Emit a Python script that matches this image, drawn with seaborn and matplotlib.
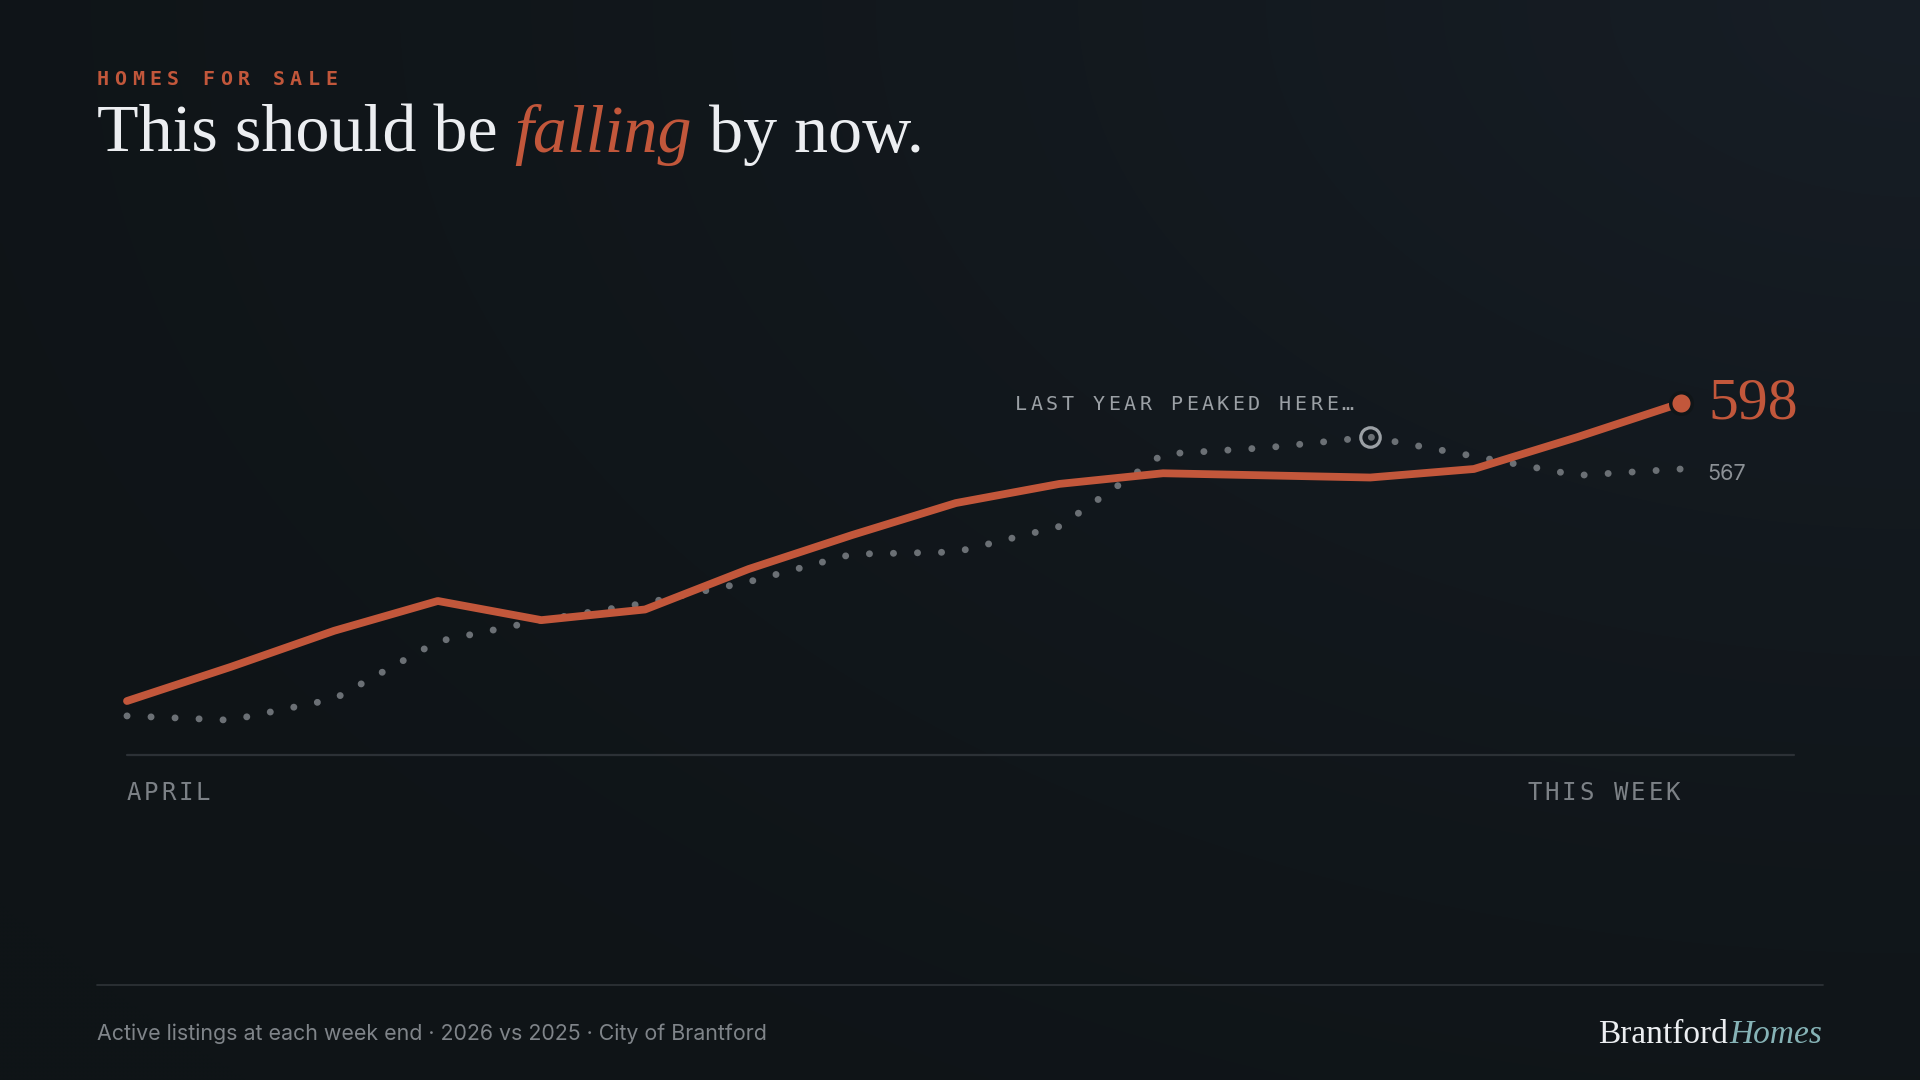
import numpy as np
import matplotlib
matplotlib.use('Agg')
import matplotlib.pyplot as plt
from matplotlib.lines import Line2D
import seaborn as sns

W, H = 1920, 1080

# ── data ──────────────────────────────────────────────────────
weeks = list(range(16))
listings_2026 = [458, 474, 491, 505, 496, 501, 520, 536, 551, 560, 565, 564, 563, 567, 582, 598]
listings_2025 = [451, 449, 459, 486, 496, 504, 514, 527, 528, 540, 574, 577, 582, 573, 564, 567]
x_labels = ['APRIL', 'THIS WEEK']

kicker = 'HOMES FOR SALE'
title_parts = ['This should be', 'falling', 'by now.']
note = 'LAST YEAR PEAKED HERE…'
footer = 'Active listings at each week end · 2026 vs 2025 · City of Brantford'
brand = ['Brantford', 'Homes']

# ── colours ───────────────────────────────────────────────────
BG = '#101518'
ORANGE = '#c2573b'
GREY_DOT = '#6b7075'
GREY_RING = '#9ba0a5'
GREY_TXT = '#8c9196'
WHITE = '#eceef1'
TEAL = '#86b3b6'
RULE = '#2c3136'

SERIF = 'Liberation Serif'
MONO = 'DejaVu Sans Mono'
SANS = 'Inter'

sns.set_style('dark', {'axes.facecolor': 'none', 'figure.facecolor': BG})
plt.rcParams['font.family'] = [SANS, 'DejaVu Sans']


def fx(px):
    return px / W


def fy(py):
    return 1 - py / H


def pt(px):
    return px * 72 / 100


def tracked(fig, x, y, s, size_px, track, color, ha='left', weight='normal'):
    # monospace text with extra letter spacing, one glyph per cell
    cell = 0.602 * size_px
    adv = cell + track
    if ha == 'right':
        x = x - (len(s) - 1) * adv - cell
    for i, ch in enumerate(s):
        fig.text(fx(x + i * adv + cell / 2), fy(y), ch, ha='center', va='baseline',
                 fontsize=pt(size_px), family=MONO, color=color, weight=weight)


fig = plt.figure(figsize=(W / 100, H / 100), dpi=100, facecolor=BG)

# soft background glow towards the top right
bg_ax = fig.add_axes([0, 0, 1, 1], zorder=-10)
yy, xx = np.mgrid[0:H:4, 0:W:4]
d = np.hypot((xx - W) / W, yy / H * 0.9)
t = np.clip(1 - d / 1.25, 0, 1) ** 1.6
base = np.array([15, 20, 23]) / 255
glow = np.array([23, 30, 38]) / 255
img = base + t[..., None] * (glow - base)
bg_ax.imshow(img, aspect='auto', extent=[0, 1, 0, 1], interpolation='bilinear')
bg_ax.axis('off')

# ── chart ─────────────────────────────────────────────────────
y_floor, y_top = 432.4, 646.4
ax = fig.add_axes([fx(127), 1 - 755.5 / H, (1794 - 127) / W, (755.5 - 300) / H])
ax.set_xlim(0, 16.09)
ax.set_ylim(y_floor, y_top)
ax.axis('off')

ax.axhline(y_floor, color=RULE, lw=1.6, clip_on=False, zorder=1)

sns.lineplot(x=weeks, y=listings_2025, ax=ax, color=GREY_DOT, linewidth=5.0,
             linestyle=(0, (0.01, 3.45)), zorder=2)
ax.lines[-1].set_dash_capstyle('round')
ax.lines[-1].set_clip_on(False)

sns.lineplot(x=weeks, y=listings_2026, ax=ax, color=ORANGE, linewidth=5.6, zorder=4)
ax.lines[-1].set_solid_capstyle('round')
ax.lines[-1].set_solid_joinstyle('round')
ax.lines[-1].set_clip_on(False)

# endpoint of this year and last year's peak
ax.plot(weeks[-1], listings_2026[-1], marker='o', ms=15.5, color=ORANGE,
        mec=BG, mew=2.5, zorder=6, clip_on=False)
peak = int(np.argmax(listings_2025))
ax.plot(weeks[peak], listings_2025[peak], marker='o', ms=14, mfc='none',
        mec=GREY_RING, mew=2.3, zorder=3)

ax.annotate(str(listings_2026[-1]), xy=(weeks[-1], listings_2026[-1]),
            xytext=(20, -11), textcoords='offset points', ha='left', va='baseline',
            fontsize=43, family=SERIF, color=ORANGE, annotation_clip=False)
ax.annotate(str(listings_2025[-1]), xy=(weeks[-1], listings_2025[-1]),
            xytext=(19, -8), textcoords='offset points', ha='left', va='baseline',
            fontsize=15.5, family=SANS, color=GREY_TXT, annotation_clip=False)

fig.canvas.draw()
px_peak, py_peak = ax.transData.transform((weeks[peak], listings_2025[peak]))
tracked(fig, px_peak - 17, H - py_peak - 27, note, 20, 3.5, GREY_RING, ha='right')

x0, _ = ax.transData.transform((weeks[0], y_floor))
x1, _ = ax.transData.transform((weeks[-1], y_floor))
tracked(fig, x0, 800, x_labels[0], 24, 2.8, '#7c8186')
tracked(fig, x1 - 1, 800, x_labels[1], 24, 2.8, '#7c8186', ha='right')

# ── headline ──────────────────────────────────────────────────
tracked(fig, 97, 85, kicker, 20, 5.5, ORANGE, weight='bold')

renderer = fig.canvas.get_renderer()
title_px = 68
space = 0.25 * title_px
x = 97
styles = [('normal', WHITE), ('italic', ORANGE), ('normal', WHITE)]
for part, (style, color) in zip(title_parts, styles):
    txt = fig.text(fx(x), fy(152), part, fontsize=pt(title_px), family=SERIF,
                   style=style, color=color, va='baseline', ha='left')
    bb = txt.get_window_extent(renderer=renderer)
    x = bb.x1 + space

# ── footer ────────────────────────────────────────────────────
fig.add_artist(Line2D([fx(97), fx(1823)], [fy(984.5), fy(984.5)],
                      transform=fig.transFigure, color=RULE, lw=1.3))
fig.text(fx(97), fy(1040), footer, fontsize=15.4, family=SANS, color='#7f8489',
         va='baseline', ha='left')

homes = fig.text(fx(1822), fy(1043), brand[1], fontsize=24, family=SERIF, style='italic',
                 color=TEAL, va='baseline', ha='right')
bb = homes.get_window_extent(renderer=renderer)
fig.text(fx(bb.x0 - 1), fy(1043), brand[0], fontsize=24, family=SERIF, color=WHITE,
         va='baseline', ha='right')

fig.savefig('out.png', dpi=100, facecolor=BG)
plt.close()
